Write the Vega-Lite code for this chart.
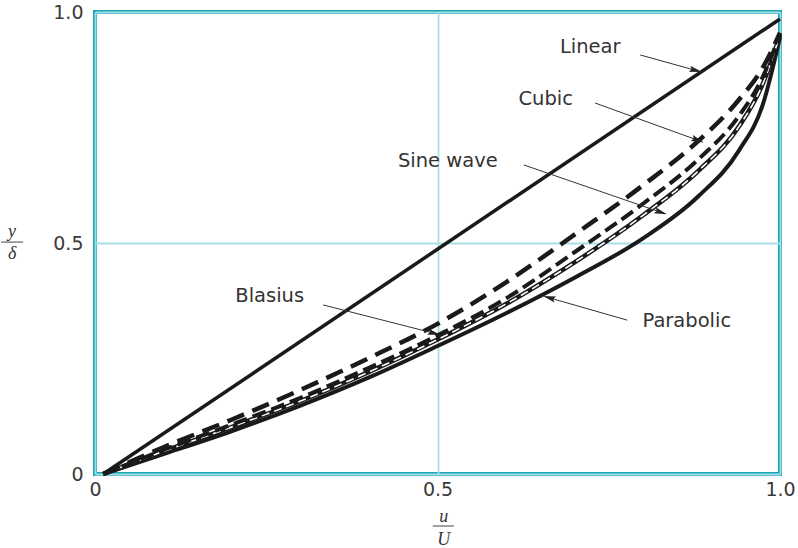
{
  "$schema": "https://vega.github.io/schema/vega-lite/v6.json",
  "width": 685,
  "height": 462,
  "autosize": {"type": "none"},
  "padding": {"left": 95, "top": 12, "right": 18, "bottom": 74},
  "background": "white",
  "config": {
    "view": {"stroke": "#17a6b6", "strokeWidth": 4},
    "axis": {
      "domain": false,
      "ticks": false,
      "grid": true,
      "gridColor": "#a8dfe7",
      "gridWidth": 1.8,
      "labelFont": "DejaVu Sans",
      "labelFontSize": 19,
      "labelColor": "#3a3a3a",
      "title": null
    },
    "text": {"font": "DejaVu Sans", "fontSize": 19.5, "color": "#333333"}
  },
  "datasets": {
    "curves": [
      {"curve": "Linear", "u": 0.012, "eta": 0},
      {"curve": "Linear", "u": 1.0, "eta": 0.985},
      {"curve": "Cubic", "u": 0.012, "eta": 0},
      {"curve": "Cubic", "u": 0.1, "eta": 0.058},
      {"curve": "Cubic", "u": 0.2, "eta": 0.118},
      {"curve": "Cubic", "u": 0.3, "eta": 0.182},
      {"curve": "Cubic", "u": 0.4, "eta": 0.251},
      {"curve": "Cubic", "u": 0.5, "eta": 0.325},
      {"curve": "Cubic", "u": 0.6, "eta": 0.415},
      {"curve": "Cubic", "u": 0.7, "eta": 0.518},
      {"curve": "Cubic", "u": 0.8, "eta": 0.625},
      {"curve": "Cubic", "u": 0.88, "eta": 0.72},
      {"curve": "Cubic", "u": 0.94, "eta": 0.81},
      {"curve": "Cubic", "u": 0.975, "eta": 0.88},
      {"curve": "Cubic", "u": 1.0, "eta": 0.955},
      {"curve": "Sine", "u": 0.012, "eta": 0},
      {"curve": "Sine", "u": 0.1, "eta": 0.052},
      {"curve": "Sine", "u": 0.2, "eta": 0.107},
      {"curve": "Sine", "u": 0.3, "eta": 0.165},
      {"curve": "Sine", "u": 0.4, "eta": 0.23},
      {"curve": "Sine", "u": 0.5, "eta": 0.3},
      {"curve": "Sine", "u": 0.6, "eta": 0.38},
      {"curve": "Sine", "u": 0.7, "eta": 0.48},
      {"curve": "Sine", "u": 0.8, "eta": 0.585},
      {"curve": "Sine", "u": 0.88, "eta": 0.68},
      {"curve": "Sine", "u": 0.94, "eta": 0.775},
      {"curve": "Sine", "u": 0.975, "eta": 0.86},
      {"curve": "Sine", "u": 1.0, "eta": 0.952},
      {"curve": "Blasius", "u": 0.012, "eta": 0},
      {"curve": "Blasius", "u": 0.1, "eta": 0.049},
      {"curve": "Blasius", "u": 0.2, "eta": 0.102},
      {"curve": "Blasius", "u": 0.3, "eta": 0.158},
      {"curve": "Blasius", "u": 0.4, "eta": 0.221},
      {"curve": "Blasius", "u": 0.5, "eta": 0.291},
      {"curve": "Blasius", "u": 0.6, "eta": 0.368},
      {"curve": "Blasius", "u": 0.7, "eta": 0.458},
      {"curve": "Blasius", "u": 0.8, "eta": 0.56},
      {"curve": "Blasius", "u": 0.88, "eta": 0.655},
      {"curve": "Blasius", "u": 0.94, "eta": 0.752},
      {"curve": "Blasius", "u": 0.975, "eta": 0.845},
      {"curve": "Blasius", "u": 1.0, "eta": 0.95},
      {"curve": "Parabolic", "u": 0.012, "eta": 0},
      {"curve": "Parabolic", "u": 0.1, "eta": 0.043},
      {"curve": "Parabolic", "u": 0.2, "eta": 0.093},
      {"curve": "Parabolic", "u": 0.3, "eta": 0.148},
      {"curve": "Parabolic", "u": 0.4, "eta": 0.209},
      {"curve": "Parabolic", "u": 0.5, "eta": 0.277},
      {"curve": "Parabolic", "u": 0.6, "eta": 0.348},
      {"curve": "Parabolic", "u": 0.7, "eta": 0.425},
      {"curve": "Parabolic", "u": 0.8, "eta": 0.51},
      {"curve": "Parabolic", "u": 0.88, "eta": 0.6},
      {"curve": "Parabolic", "u": 0.94, "eta": 0.7},
      {"curve": "Parabolic", "u": 0.975, "eta": 0.8},
      {"curve": "Parabolic", "u": 1.0, "eta": 0.945}
    ],
    "labels": [
      {"label": "Linear", "u": 0.723, "eta": 0.924},
      {"label": "Cubic", "u": 0.658, "eta": 0.812},
      {"label": "Sine wave", "u": 0.515, "eta": 0.677},
      {"label": "Blasius", "u": 0.255, "eta": 0.385},
      {"label": "Parabolic", "u": 0.864, "eta": 0.331}
    ],
    "arrows": [
      {"label": "Linear", "u1": 0.796, "e1": 0.907, "u2": 0.876, "e2": 0.874, "angle": 105},
      {"label": "Cubic", "u1": 0.73, "e1": 0.803, "u2": 0.879, "e2": 0.723, "angle": 110},
      {"label": "Sine wave", "u1": 0.626, "e1": 0.669, "u2": 0.825, "e2": 0.567, "angle": 109},
      {"label": "Blasius", "u1": 0.333, "e1": 0.366, "u2": 0.494, "e2": 0.305, "angle": 104},
      {"label": "Parabolic", "u1": 0.777, "e1": 0.333, "u2": 0.664, "e2": 0.381, "angle": 286}
    ],
    "fracText": [
      {"t": "y", "u": -0.121, "eta": 0.524},
      {"t": "δ", "u": -0.121, "eta": 0.477},
      {"t": "u", "u": 0.509, "eta": -0.094},
      {"t": "U", "u": 0.509, "eta": -0.142}
    ],
    "fracBars": [
      {"u1": -0.137, "u2": -0.105, "eta": 0.502},
      {"u1": 0.493, "u2": 0.524, "eta": -0.1126}
    ]
  },
  "encoding": {
    "x": {"field": "u", "type": "quantitative", "scale": {"domain": [0, 1], "nice": false, "zero": false},
      "axis": {"values": [0, 0.5, 1], "labelExpr": "datum.value == 0 ? '0' : format(datum.value, '.1f')", "labelPadding": 6, "labelFlush": false}},
    "y": {"field": "eta", "type": "quantitative", "scale": {"domain": [0, 1], "nice": false, "zero": false},
      "axis": {"values": [0, 0.5, 1], "labelExpr": "datum.value == 0 ? '0' : format(datum.value, '.1f')", "labelPadding": 12, "labelFlush": false}}
  },
  "layer": [
    {
      "data": {"name": "curves"},
      "transform": [{"filter": "datum.curve == 'Linear'"}],
      "mark": {"type": "line", "color": "#1a1a1a", "strokeWidth": 3.5},
      "encoding": {}
    },
    {
      "data": {"name": "curves"},
      "transform": [{"filter": "datum.curve == 'Parabolic'"}],
      "mark": {"type": "line", "color": "#1a1a1a", "strokeWidth": 4, "interpolate": "monotone"},
      "encoding": {}
    },
    {
      "data": {"name": "curves"},
      "transform": [{"filter": "datum.curve == 'Blasius'"}],
      "mark": {"type": "line", "color": "#1a1a1a", "strokeWidth": 4.5, "interpolate": "monotone"},
      "encoding": {}
    },
    {
      "data": {"name": "curves"},
      "transform": [{"filter": "datum.curve == 'Blasius'"}],
      "mark": {"type": "line", "color": "white", "strokeWidth": 1.6, "strokeDash": [8, 5], "interpolate": "monotone"},
      "encoding": {}
    },
    {
      "data": {"name": "curves"},
      "transform": [{"filter": "datum.curve == 'Sine'"}],
      "mark": {"type": "line", "color": "#1a1a1a", "strokeWidth": 4, "strokeDash": [14, 6], "interpolate": "monotone"},
      "encoding": {}
    },
    {
      "data": {"name": "curves"},
      "transform": [{"filter": "datum.curve == 'Cubic'"}],
      "mark": {"type": "line", "color": "#1a1a1a", "strokeWidth": 4.5, "strokeDash": [18, 9], "interpolate": "monotone"},
      "encoding": {}
    },
    {
      "data": {"name": "arrows"},
      "mark": {"type": "rule", "color": "#333333", "strokeWidth": 1},
      "encoding": {
        "x": {"field": "u1", "type": "quantitative"},
        "y": {"field": "e1", "type": "quantitative"},
        "x2": {"field": "u2"},
        "y2": {"field": "e2"}
      }
    },
    {
      "data": {"name": "arrows"},
      "mark": {"type": "point", "shape": "M0,-1L0.45,0.8L0,0.5L-0.45,0.8Z", "filled": true, "color": "#222222", "size": 200, "opacity": 1},
      "encoding": {
        "x": {"field": "u2", "type": "quantitative"},
        "y": {"field": "e2", "type": "quantitative"},
        "angle": {"field": "angle", "type": "quantitative", "scale": null}
      }
    },
    {
      "data": {"name": "labels"},
      "mark": {"type": "text", "align": "center", "baseline": "middle"},
      "encoding": {"text": {"field": "label"}}
    },
    {
      "data": {"name": "fracText"},
      "mark": {"type": "text", "align": "center", "baseline": "middle", "font": "Liberation Serif", "fontStyle": "italic", "fontSize": 18, "color": "#333333"},
      "encoding": {"text": {"field": "t"}}
    },
    {
      "data": {"name": "fracBars"},
      "mark": {"type": "rule", "color": "#444444", "strokeWidth": 1},
      "encoding": {
        "x": {"field": "u1", "type": "quantitative"},
        "x2": {"field": "u2"}
      }
    }
  ]
}
